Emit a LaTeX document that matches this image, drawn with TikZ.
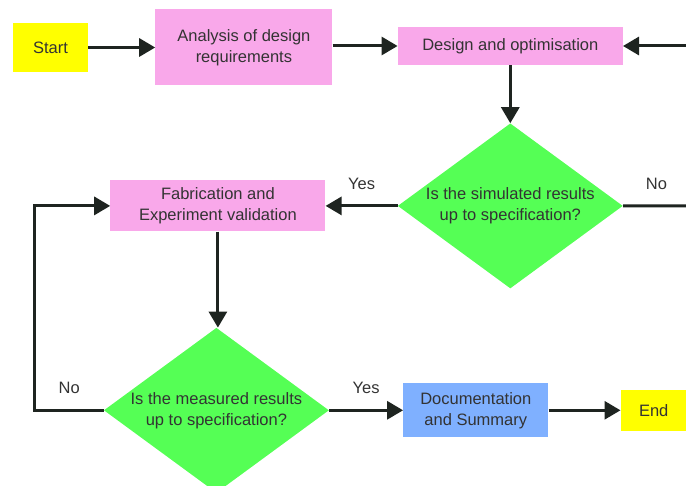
\documentclass[tikz,border=0pt]{standalone}
\usepackage{fontspec}
\setmainfont{Liberation Sans}
\usetikzlibrary{arrows.meta,positioning,shapes.geometric}
\usepackage{xcolor}
\definecolor{PinkBox}{HTML}{F9A8EA}
\definecolor{GreenDec}{HTML}{55FF55}
\definecolor{BlueBox}{HTML}{7FB0FF}
\definecolor{YellowT}{HTML}{FFFF00}
\definecolor{LineDk}{HTML}{1E2420}
\definecolor{TextDk}{HTML}{333333}

\begin{document}
\begin{tikzpicture}[x=1pt, y=-1pt,
  every node/.style={font=\fontsize{16.5}{21}\selectfont, text=TextDk},
  procbox/.style={fill=PinkBox, align=center, inner sep=0pt},
  termbox/.style={fill=YellowT, align=center, inner sep=0pt},
  docbox/.style={fill=BlueBox, align=center, inner sep=0pt},
  decision/.style={diamond, fill=GreenDec, align=center, aspect=1.36,
                   inner xsep=-6pt, inner ysep=0pt,
                   minimum width=225pt, minimum height=165pt},
  flow/.style={-{Triangle[length=16pt,width=18pt]}, line width=3pt, draw=LineDk},
  plain/.style={line width=3pt, draw=LineDk},
  lbl/.style={above=15pt, inner sep=0pt}
]
  \useasboundingbox (0,0) rectangle (686,486);

  % top row
  \node[termbox, minimum width=75pt, minimum height=49pt] (start) at (50.5,47.5) {Start};
  \node[procbox, minimum width=177pt, minimum height=76pt, right=67pt of start] (analysis)
       {Analysis of design\\requirements};
  \node[procbox, minimum width=225pt, minimum height=38pt, right=65pt of analysis, yshift=1.5pt] (design)
       {Design and optimisation};

  % checks
  \node[decision, below=58pt of design] (simchk) {Is the simulated results\\up to specification?};
  \node[procbox, minimum width=215pt, minimum height=51pt, left=72pt of simchk] (fab)
       {Fabrication and\\Experiment validation};
  \node[decision, below=96pt of fab, xshift=-1.5pt] (meschk) {Is the measured results\\up to specification?};
  \node[docbox, minimum width=145pt, minimum height=54pt, right=74pt of meschk] (doc)
       {Documentation\\and Summary};
  \node[termbox, minimum width=66pt, minimum height=41pt, right=72pt of doc] (finish) {End};

  % loose ends at the right edge
  \coordinate (rin)  at (690,46);
  \coordinate (rout) at (690,206);

  \draw[flow] (start.east) -- (analysis.west);
  \draw[flow] (analysis.east |- design.west) -- (design.west);
  \draw[flow] (rin) -- (design.east);
  \draw[flow] (design.south) -- (simchk.north);
  \draw[flow] (simchk.west) -- node[lbl] {Yes} (fab.east);
  \draw[plain] (simchk.east) -- node[lbl] {No} (rout);
  \draw[flow] (fab.south) -- (fab.south |- meschk.north);
  \draw[flow] (meschk.west) -- node[lbl] {No} ++(-69,0) |- (fab.west);
  \draw[flow] (meschk.east) -- node[lbl] {Yes} (doc.west);
  \draw[flow] (doc.east) -- (finish.west);
\end{tikzpicture}
\end{document}
